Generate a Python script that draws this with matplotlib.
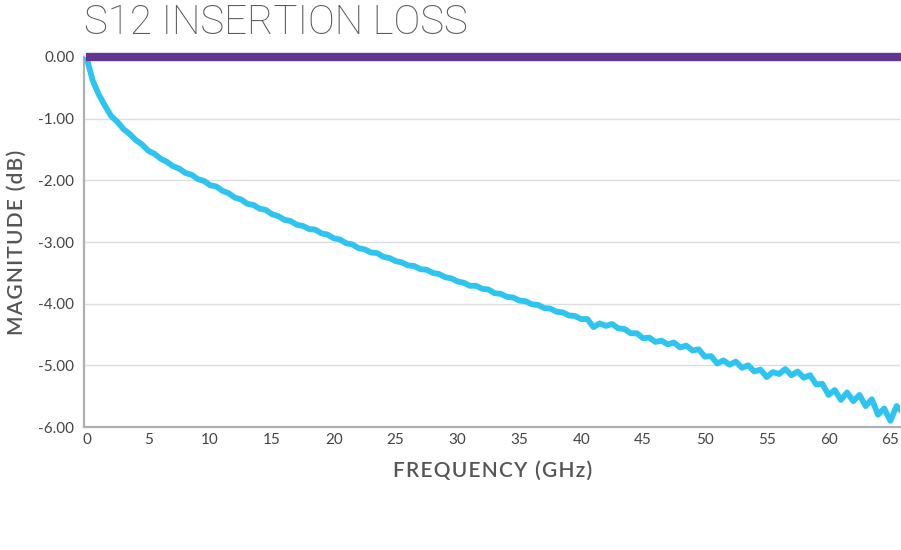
import matplotlib
matplotlib.use("Agg")
import matplotlib.pyplot as plt

plt.rcParams["font.family"] = ["Lato", "DejaVu Sans"]

FREQ_GHZ = [
    0.0, 0.5, 1.0, 1.5, 2.0, 2.5, 3.0, 3.5, 4.0, 4.5,
    5.0, 5.5, 6.0, 6.5, 7.0, 7.5, 8.0, 8.5, 9.0, 9.5,
    10.0, 10.5, 11.0, 11.5, 12.0, 12.5, 13.0, 13.5, 14.0, 14.5,
    15.0, 15.5, 16.0, 16.5, 17.0, 17.5, 18.0, 18.5, 19.0, 19.5,
    20.0, 20.5, 21.0, 21.5, 22.0, 22.5, 23.0, 23.5, 24.0, 24.5,
    25.0, 25.5, 26.0, 26.5, 27.0, 27.5, 28.0, 28.5, 29.0, 29.5,
    30.0, 30.5, 31.0, 31.5, 32.0, 32.5, 33.0, 33.5, 34.0, 34.5,
    35.0, 35.5, 36.0, 36.5, 37.0, 37.5, 38.0, 38.5, 39.0, 39.5,
    40.0, 40.5, 41.0, 41.5, 42.0, 42.5, 43.0, 43.5, 44.0, 44.5,
    45.0, 45.5, 46.0, 46.5, 47.0, 47.5, 48.0, 48.5, 49.0, 49.5,
    50.0, 50.5, 51.0, 51.5, 52.0, 52.5, 53.0, 53.5, 54.0, 54.5,
    55.0, 55.5, 56.0, 56.5, 57.0, 57.5, 58.0, 58.5, 59.0, 59.5,
    60.0, 60.5, 61.0, 61.5, 62.0, 62.5, 63.0, 63.5, 64.0, 64.5,
    65.0, 65.5, 65.8,
]
S12_DB = [
    0.00, -0.38, -0.61, -0.79, -0.96, -1.05, -1.17, -1.25, -1.35, -1.42,
    -1.52, -1.57, -1.65, -1.70, -1.77, -1.81, -1.88, -1.91, -1.98, -2.01,
    -2.08, -2.10, -2.17, -2.21, -2.28, -2.31, -2.38, -2.40, -2.46, -2.48,
    -2.55, -2.58, -2.64, -2.66, -2.72, -2.74, -2.79, -2.80, -2.86, -2.88,
    -2.94, -2.96, -3.02, -3.04, -3.10, -3.12, -3.17, -3.18, -3.24, -3.26,
    -3.31, -3.33, -3.38, -3.39, -3.44, -3.45, -3.50, -3.52, -3.57, -3.59,
    -3.64, -3.66, -3.71, -3.71, -3.76, -3.77, -3.83, -3.84, -3.89, -3.90,
    -3.95, -3.96, -4.01, -4.02, -4.07, -4.08, -4.13, -4.14, -4.19, -4.20,
    -4.25, -4.25, -4.38, -4.32, -4.36, -4.33, -4.40, -4.41, -4.48, -4.48,
    -4.56, -4.55, -4.62, -4.60, -4.66, -4.63, -4.71, -4.68, -4.76, -4.74,
    -4.86, -4.85, -4.97, -4.92, -4.99, -4.94, -5.04, -5.00, -5.10, -5.07,
    -5.19, -5.11, -5.14, -5.06, -5.16, -5.10, -5.20, -5.16, -5.31, -5.30,
    -5.48, -5.40, -5.56, -5.44, -5.58, -5.48, -5.66, -5.55, -5.80, -5.70,
    -5.90, -5.66, -5.72,
]
REF_DB = [0.0, 0.0]
REF_FREQ = [0.0, 66.0]

X_TICKS = [0, 5, 10, 15, 20, 25, 30, 35, 40, 45, 50, 55, 60, 65]
Y_TICKS = [0, -1, -2, -3, -4, -5, -6]


def spaced(text):
    # loose letter spacing like the original axis titles
    return "\u200a".join(text)


fig = plt.figure(figsize=(9.01, 5.5), dpi=100)
ax = fig.add_axes([0.0932, 0.2236, 0.906, 0.6728])

ax.plot(FREQ_GHZ, S12_DB, color="#2ec4f2", lw=4.2, solid_joinstyle="round", zorder=3)
ax.plot(REF_FREQ, REF_DB, color="#633592", lw=6, clip_on=False, solid_capstyle="butt", zorder=4)

ax.set_xlim(-0.2, 65.8)
ax.set_ylim(-6, 0)
ax.set_xticks(X_TICKS)
ax.set_yticks(Y_TICKS)
ax.set_yticklabels([f"{v:.2f}" for v in Y_TICKS])
ax.tick_params(length=0, labelsize=11, colors="#444444")
ax.tick_params(axis="y", pad=7)
ax.tick_params(axis="x", pad=4)

ax.grid(axis="y", color="#dddddd", lw=1)
ax.set_axisbelow(True)
for side in ["top", "right"]:
    ax.spines[side].set_visible(False)
for side in ["left", "bottom"]:
    ax.spines[side].set_color("#b0b0b0")
    ax.spines[side].set_linewidth(1.6)

ax.set_xlabel(spaced("FREQUENCY (GHz)"), fontsize=15, color="#555555",
              fontweight="semibold", labelpad=10)
ax.set_ylabel(spaced("MAGNITUDE (dB)"), fontsize=15, color="#555555",
              fontweight="semibold", labelpad=8)

fig.text(0.093, 0.958, "S12 INSERTION LOSS", fontsize=29, color="#5a5a5a",
         family=["Roboto", "DejaVu Sans"], fontweight="light", va="center", ha="left")

fig.savefig("out.png", dpi=100)
